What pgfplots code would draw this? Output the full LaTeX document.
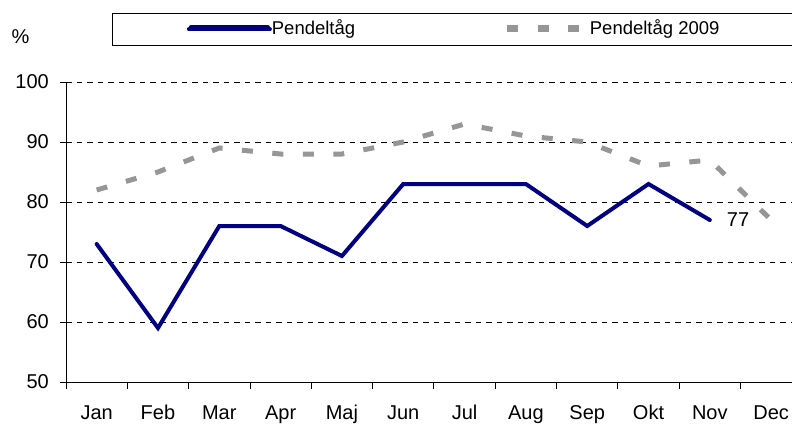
\documentclass[border=0pt]{standalone}
\usepackage{fontspec}
\setmainfont{Liberation Sans}
\usepackage{pgfplots}
\pgfplotsset{compat=1.18}
\definecolor{navyline}{RGB}{0,0,128}
\definecolor{grayline}{RGB}{150,150,150}
\newcommand{\tfont}{\fontsize{20}{24}\selectfont}
\newcommand{\lfont}{\fontsize{18.5}{22}\selectfont}
\pgfplotsset{
  bluelegend/.style={legend image code/.code={\draw[##1] (2pt,2.3pt) -- (79pt,2.3pt); \path (0pt,0pt) -- (81pt,0pt);}},
  graylegend/.style={legend image code/.code={\draw[##1] (0pt,2.3pt) -- (72pt,2.3pt); \path (0pt,0pt) -- (80pt,0pt);}},
}
\begin{document}
\begin{tikzpicture}
\useasboundingbox (0pt,0pt) rectangle (792pt,424pt);
\begin{axis}[
  at={(66pt,42pt)}, anchor=south west,
  scale only axis, width=726pt, height=300pt,
  xmin=-0.5, xmax=11.34, ymin=50, ymax=100,
  axis x line=bottom, axis y line=left,
  axis line style={-, line width=0.9pt, black},
  clip=false,
  /pgf/number format/assume math mode=true,
  ytick={50,60,70,80,90,100},
  xtick={0,1,2,3,4,5,6,7,8,9,10,11},
  xticklabels={Jan,Feb,Mar,Apr,Maj,Jun,Jul,Aug,Sep,Okt,Nov,Dec},
  minor xtick={-0.5,0.5,1.5,2.5,3.5,4.5,5.5,6.5,7.5,8.5,9.5,10.5},
  tick align=outside,
  major tick length=6pt,
  minor tick length=7pt,
  major x tick style={draw=none},
  minor x tick style={line width=0.9pt, black},
  ytick style={line width=0.9pt, black},
  ymajorgrids,
  major grid style={black, line width=0.8pt, dash pattern=on 5.5pt off 5pt},
  yticklabel style={font=\tfont, anchor=east, inner sep=0pt, xshift=-11pt},
  xticklabel style={font=\tfont, anchor=north, inner sep=0pt, text height=14.3pt, text depth=4pt, yshift=-16.5pt},
  legend columns=2,
  legend style={at={(0.06336,1.23)}, anchor=north west, draw=black, line width=0.8pt,
    inner xsep=74.5pt, inner ysep=0pt,
    nodes={inner sep=0pt, text height=21.3pt, text depth=10.7pt, font=\lfont},
    cells={anchor=west}},
]
\addplot[navyline, line width=4pt, line cap=round, line join=miter, bluelegend]
  coordinates {(0,73) (1,59) (2,76) (3,76) (4,71) (5,83) (6,83) (7,83) (8,76) (9,83) (10,77)};
\addlegendentry{\makebox[233pt][l]{Pendeltåg}}
\addplot[grayline, line width=5pt, dash pattern=on 11pt off 19.5pt, graylegend]
  coordinates {(0,82) (1,85) (2,89) (3,88) (4,88) (5,90) (6,93) (7,91) (8,90) (9,86) (10,87) (11,77)};
\addlegendentry{\makebox[136pt][l]{Pendeltåg 2009}}
\node[font=\tfont, inner sep=0pt] at (axis cs:10.46,77) {77};
\end{axis}
\node[font=\tfont, inner sep=0pt] at (20.5pt,387pt) {\%};
\end{tikzpicture}
\end{document}
